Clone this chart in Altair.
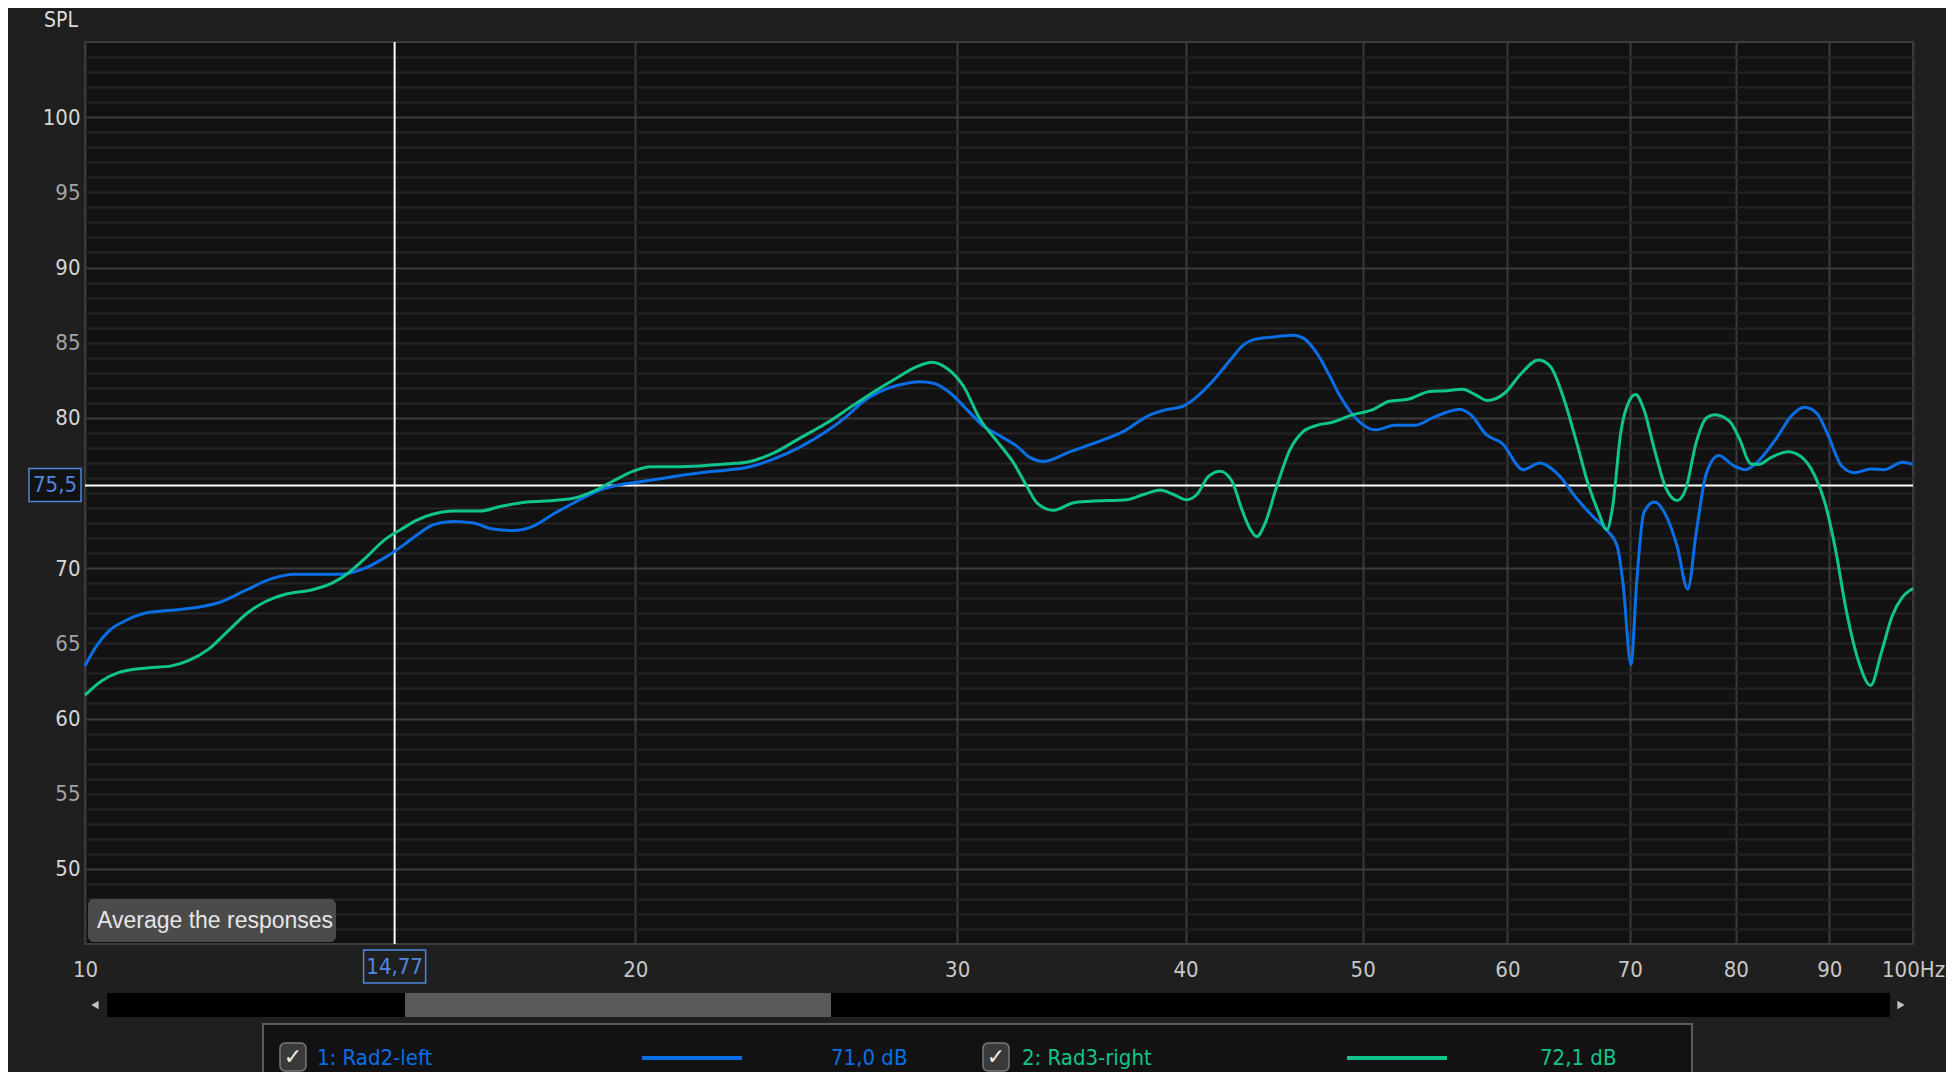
import altair as alt
import pandas as pd

# ---------------- data ----------------
series_names = ["1: Rad2-left", "2: Rad3-right"]
series_colors = ["#0A6FE6", "#10C48E"]
legend_levels = ["71,0 dB", "72,1 dB"]

blue_freq = [10, 10.13, 10.3, 10.52, 10.78, 11.15, 11.53, 11.83, 12.23, 12.65, 13.03, 13.42, 13.82,
             14.23, 14.59, 14.96, 15.19, 15.51, 15.9, 16.31, 16.72, 17.15, 17.59, 18.04, 18.58, 19.13,
             19.62, 20.0, 20.63, 21.25, 21.89, 22.54, 23.01, 23.8, 24.61, 25.45, 26.1, 26.66, 27.22,
             27.92, 28.63, 29.12, 29.74, 30.37, 31.01, 31.67, 32.35, 32.89, 33.45, 34.59, 35.62, 36.99,
             38.25, 38.9, 39.9, 40.57, 41.43, 42.32, 43.03, 43.75, 44.87, 45.82, 46.4, 47.19, 47.98,
             48.59, 49.2, 50.0, 50.8, 52.1, 53.4, 54.7, 56.5, 57.3, 58.4, 59.6, 61.2, 62.5, 64.0, 65.4,
             66.8, 68.1, 68.9, 69.4, 70.1, 70.6, 71.25, 72.2, 73.3, 74.3, 75.3, 76.1, 77.1, 78.3, 79.8,
             81.0, 82.1, 84.1, 85.9, 87.2, 88.6, 89.75, 91.4, 92.9, 94.8, 96.4, 98.65, 100]
blue_db = [63.5, 64.7, 65.8, 66.5, 67.0, 67.2, 67.4, 67.7, 68.5, 69.3, 69.6, 69.6, 69.6,
           70.0, 70.7, 71.6, 72.2, 72.9, 73.1, 73.0, 72.6, 72.5, 72.8, 73.6, 74.45, 75.2,
           75.55, 75.7, 75.95, 76.2, 76.4, 76.55, 76.7, 77.25, 78.05, 79.1, 80.1, 81.1, 81.75,
           82.2, 82.4, 82.3, 81.65, 80.55, 79.45, 78.8, 78.1, 77.35, 77.1, 77.75, 78.3, 79.1,
           80.2, 80.5, 80.8, 81.4, 82.5, 83.85, 84.85, 85.25, 85.4, 85.5, 85.3, 84.3, 82.75,
           81.45, 80.45, 79.55, 79.2, 79.5, 79.5, 80.05, 80.55, 80.2, 78.9, 78.3, 76.55, 77.0, 76.2, 74.7,
           73.45, 72.45, 71.45, 69.0, 63.6, 69.0, 73.7, 74.4, 73.45, 71.45, 68.6, 72.35, 76.35, 77.5, 76.8,
           76.55, 77.0, 78.55, 80.2, 80.7, 80.3, 79.0, 76.8, 76.35, 76.6, 76.55, 77.05, 76.9]

green_freq = [10, 10.21, 10.43, 10.78, 11.15, 11.39, 11.68, 11.98, 12.28, 12.54, 12.86, 13.3, 13.65,
              13.94, 14.23, 14.59, 14.9, 15.19, 15.51, 15.9, 16.45, 16.87, 17.45, 18.04, 18.58, 18.97,
              19.45, 19.95, 20.38, 20.99, 21.7, 22.54, 23.01, 23.8, 24.61, 25.45, 26.33, 27.11, 27.8,
              28.51, 29.05, 29.61, 30.24, 30.88, 31.54, 32.21, 32.75, 33.17, 33.87, 34.74, 35.47, 37.15,
              37.94, 38.75, 39.4, 40.06, 40.57, 41.17, 41.78, 42.4, 42.94, 43.39, 43.75, 44.22, 44.87,
              45.63, 46.4, 47.19, 48.1, 49.35, 50.65, 51.7, 53.0, 54.4, 55.55, 56.7, 57.6, 58.5, 59.8,
              61.05, 62.4, 63.35, 64.36, 65.4, 66.4, 67.3, 68.0, 68.5, 69.2, 70.0, 70.5, 71.25, 72.2,
              73.3, 74.3, 75.1, 76.1, 77.1, 77.9, 79.4, 80.4, 81.5, 82.3, 83.6, 85.4, 86.8, 88.4, 89.5,
              90.7, 91.9, 93.4, 94.8, 96.1, 97.4, 98.65, 100]
green_db = [61.55, 62.5, 63.05, 63.35, 63.5, 63.85, 64.6, 65.85, 67.05, 67.75, 68.25, 68.55, 69.0,
            69.7, 70.65, 71.9, 72.6, 73.2, 73.6, 73.8, 73.8, 74.1, 74.4, 74.5, 74.7, 75.1,
            75.8, 76.45, 76.75, 76.75, 76.8, 76.95, 77.05, 77.65, 78.65, 79.65, 80.85, 81.85, 82.65,
            83.4, 83.7, 83.3, 82.1, 79.9, 78.45, 77.0, 75.45, 74.35, 73.85, 74.35, 74.45, 74.55,
            74.9, 75.2, 74.9, 74.55, 74.9, 76.1, 76.45, 75.8, 73.9, 72.6, 72.1, 73.0, 75.45,
            77.9, 79.1, 79.5, 79.7, 80.2, 80.55, 81.1, 81.25, 81.75, 81.8, 81.9, 81.55, 81.15, 81.65,
            82.95, 83.85, 83.4, 81.4, 78.55, 75.65, 73.7, 72.55, 74.1, 79.0, 81.2, 81.55, 80.55, 77.9,
            75.25, 74.5, 75.25, 78.35, 80.0, 80.2, 79.75, 78.55, 76.95, 76.9, 77.35, 77.75, 77.45, 76.1, 74.35,
            71.25, 67.3, 63.75, 62.2, 64.4, 66.8, 68.05, 68.65]

cursor_freq = [14.77]
cursor_db = [75.5]

x_ticks = [10, 20, 30, 40, 50, 60, 70, 80, 90, 100]
y_grid = list(range(46, 105))

# ---------------- tables ----------------
lines_df = pd.concat([
    pd.DataFrame({"f": blue_freq, "db": blue_db, "series": series_names[0]}),
    pd.DataFrame({"f": green_freq, "db": green_db, "series": series_names[1]}),
], ignore_index=True)
cur_f_df = pd.DataFrame({"f": cursor_freq, "label": [f"{v:.2f}".replace(".", ",") for v in cursor_freq]})
cur_db_df = pd.DataFrame({"db": cursor_db, "label": [f"{v:.1f}".replace(".", ",") for v in cursor_db]})
one = pd.DataFrame({"k": [0]})

FONT = "DejaVu Sans Condensed, DejaVu Sans, sans-serif"
FONT_UI = "Liberation Sans, Arial, sans-serif"
FS = 22
W, H = 1828, 902

xscale = alt.Scale(type="log", domain=[10, 100], nice=False)
yscale = alt.Scale(domain=[45, 105], nice=False, zero=False)
xaxis = alt.Axis(values=x_ticks, title=None,
                 labelExpr="datum.value == 100 ? '100Hz' : datum.value",
                 grid=True, gridColor="#3a3a3a", gridWidth=2, domain=False, ticks=False,
                 labelPadding=15, labelFlush=False, labelOverlap=False,
                 labelFont=FONT, labelFontSize=FS, labelColor="#c8c8c8")
# the tick label under the cursor box is covered by the box, as in the source
yaxis = alt.Axis(values=y_grid, title=None,
                 labelExpr=f"datum.value % 5 == 0 && abs(datum.value - {cursor_db[0]}) > 2 ? datum.value : ''",
                 grid=True,
                 gridColor={"condition": {"test": "datum.value % 10 == 0", "value": "#3c3c3c"}, "value": "#252525"},
                 gridWidth=2, domain=False, ticks=False, labelPadding=5, labelOverlap=False,
                 labelFont=FONT, labelFontSize=FS,
                 labelColor={"condition": {"test": "datum.value % 10 == 0", "value": "#d6d6d6"}, "value": "#a4a4a4"})

X = alt.X("f:Q", scale=xscale, axis=xaxis)
Y = alt.Y("db:Q", scale=yscale, axis=yaxis)

layers = []

# cursor lines
layers.append(alt.Chart(cur_f_df).mark_rule(color="#ffffff", strokeWidth=2).encode(x=X))
layers.append(alt.Chart(cur_db_df).mark_rule(color="#ffffff", strokeWidth=2).encode(y=Y))

# response curves
layers.append(alt.Chart(lines_df).mark_line(interpolate="monotone", strokeWidth=3).encode(
    x=X, y=Y,
    color=alt.Color("series:N", scale=alt.Scale(domain=series_names, range=series_colors), legend=None),
))

# cursor value boxes
BOXC = "#4F86E0"
layers.append(alt.Chart(cur_db_df).mark_rect(fill="#121212", stroke=BOXC, strokeWidth=1.5,
                                             yOffset=-17, y2Offset=16).encode(
    x=alt.value(-56), x2=alt.value(-4), y=Y, y2="db:Q"))
layers.append(alt.Chart(cur_db_df).mark_text(font=FONT, fontSize=FS, color=BOXC, align="center",
                                             baseline="middle").encode(
    x=alt.value(-30), y=Y, text="label:N"))
layers.append(alt.Chart(cur_f_df).mark_rect(fill="#1f1f1f", stroke=BOXC, strokeWidth=1.5,
                                            xOffset=-31, x2Offset=31).encode(
    x=X, x2="f:Q", y=alt.value(908), y2=alt.value(941)))
layers.append(alt.Chart(cur_f_df).mark_text(font=FONT, fontSize=FS, color=BOXC, align="center",
                                            baseline="middle").encode(
    x=X, y=alt.value(925), text="label:N"))


def rect(x1, x2, y1, y2, **kw):
    return alt.Chart(one).mark_rect(**kw).encode(
        x=alt.value(x1), x2=alt.value(x2), y=alt.value(y1), y2=alt.value(y2))


def text(x, y, s, **kw):
    opts = dict(font=FONT, fontSize=FS, align="left", baseline="middle")
    opts.update(kw)
    return alt.Chart(one).mark_text(text=s, **opts).encode(x=alt.value(x), y=alt.value(y))


# title
layers.append(text(-41, -21, "SPL", fontSize=21, color="#dcdcdc"))

# button
layers.append(rect(3, 251, 857, 900, fill="#4b4b4b", cornerRadius=6))
layers.append(text(12, 879, "Average the responses", font=FONT_UI, fontSize=23, color="#e6e6e6"))

# scrollbar
layers.append(rect(22, 1805, 951, 975, fill="#000000"))
layers.append(rect(320, 746, 951, 975, fill="#595959"))
layers.append(alt.Chart(one).mark_point(shape="triangle-left", filled=True, size=70, color="#c4c4c4", opacity=1)
              .encode(x=alt.value(10), y=alt.value(963)))
layers.append(alt.Chart(one).mark_point(shape="triangle-right", filled=True, size=70, color="#c4c4c4", opacity=1)
              .encode(x=alt.value(1816), y=alt.value(963)))

# legend box
layers.append(rect(178, 1607, 982, 1035, fill="#121212", stroke="#5c5c5c", strokeWidth=2))
legend_pos = [(195, 232, 557, 746), (898, 937, 1262, 1455)]
for (cbx, tx, lx, vx), name, col, lvl in zip(legend_pos, series_names, series_colors, legend_levels):
    layers.append(rect(cbx, cbx + 26, 1001, 1029, fill="#3a3a3a", stroke="#7a7a7a", strokeWidth=1.5, cornerRadius=5))
    layers.append(text(cbx + 13, 1015, "✓", font="DejaVu Sans", fontSize=22, color="#f0f0f0", align="center"))
    layers.append(text(tx, 1016, name, color=col))
    layers.append(alt.Chart(one).mark_rule(color=col, strokeWidth=4).encode(
        x=alt.value(lx), x2=alt.value(lx + 100), y=alt.value(1016)))
    layers.append(text(vx, 1016, lvl, color=col))

chart = alt.layer(*layers).properties(
    width=W, height=H,
    autosize=alt.AutoSizeParams(type="none"),
    padding={"left": 77, "top": 34, "right": 33, "bottom": 128},
    background="#1f1f1f",
).configure_view(fill="#121212", stroke="#3c3c3c", strokeWidth=2)

chart.save("out.html", embed_options={"renderer": "svg", "actions": False})
